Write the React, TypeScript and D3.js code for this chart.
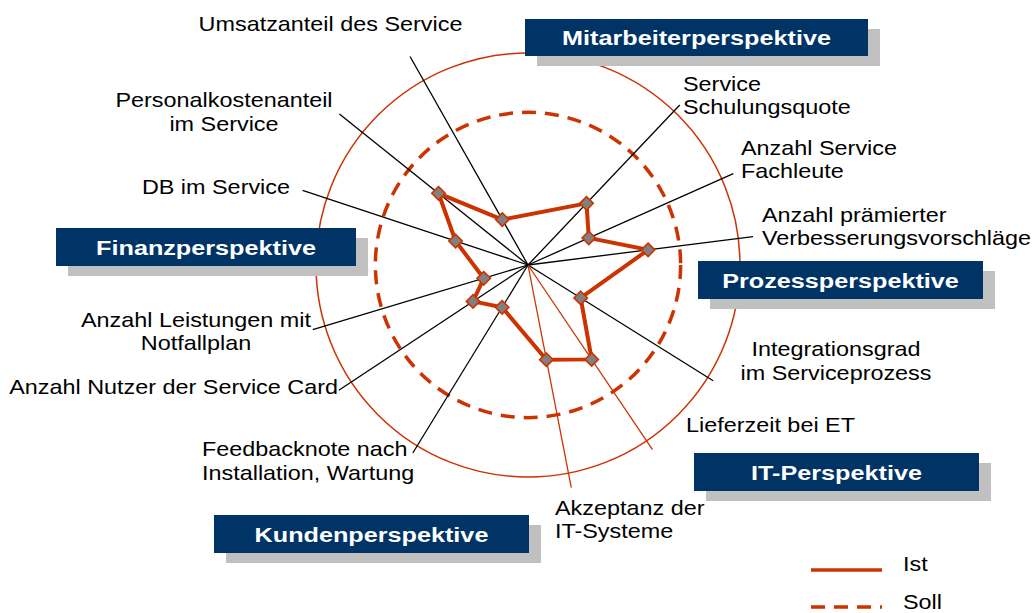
import React from "react";
import * as d3 from "d3";

// ---- data ----
const axisNames = [
  "Umsatzanteil des Service",
  "Service Schulungsquote",
  "Anzahl Service Fachleute",
  "Anzahl prämierter Verbesserungsvorschläge",
  "Integrationsgrad im Serviceprozess",
  "Lieferzeit bei ET",
  "Akzeptanz der IT-Systeme",
  "Feedbacknote nach Installation, Wartung",
  "Anzahl Nutzer der Service Card",
  "Anzahl Leistungen mit Notfallplan",
  "DB im Service",
  "Personalkostenanteil im Service",
];
const istValues = [24.6, 40.1, 31.4, 57.1, 29.3, 53.7, 45.5, 23.4, 31.1, 21.8, 36, 54.1];
const sollValue = 72;
const maxValue = 100;
const perspectives = [
  "Mitarbeiterperspektive",
  "Finanzperspektive",
  "Prozessperspektive",
  "IT-Perspektive",
  "Kundenperspektive",
];
const legendItems = ["Ist", "Soll"];

// ---- layout ----
const axisAngles = [330.5, 43.5, 66, 82.8, 122, 146, 169, 211.5, 236.5, 253.3, 288.3, 308.7];
const spokeLengths = [113, 104, 106, 107, 103, 105, 107, 104, 107, 106, 112, 114];
const spokeOrange = [false, false, false, false, false, true, true, false, false, false, false, false];
type LabelLayout = { lines: string[]; x: number; ys: number[]; anchor: "start" | "middle" | "end" };
const labelLayout: LabelLayout[] = [
  { lines: ["Umsatzanteil des Service"], x: 330.5, ys: [31], anchor: "middle" },
  { lines: ["Service", "Schulungsquote"], x: 683, ys: [91, 114], anchor: "start" },
  { lines: ["Anzahl Service", "Fachleute"], x: 741, ys: [155, 178], anchor: "start" },
  { lines: ["Anzahl prämierter", "Verbesserungsvorschläge"], x: 762, ys: [222, 245], anchor: "start" },
  { lines: ["Integrationsgrad", "im Serviceprozess"], x: 836, ys: [356, 380], anchor: "middle" },
  { lines: ["Lieferzeit bei ET"], x: 686, ys: [432], anchor: "start" },
  { lines: ["Akzeptanz der", "IT-Systeme"], x: 555, ys: [515, 538], anchor: "start" },
  { lines: ["Feedbacknote nach", "Installation, Wartung"], x: 202, ys: [456, 480], anchor: "start" },
  { lines: ["Anzahl Nutzer der Service Card"], x: 338, ys: [394], anchor: "end" },
  { lines: ["Anzahl Leistungen mit", "Notfallplan"], x: 196, ys: [327, 350], anchor: "middle" },
  { lines: ["DB im Service"], x: 290, ys: [194], anchor: "end" },
  { lines: ["Personalkostenanteil", "im Service"], x: 224, ys: [107, 131], anchor: "middle" },
];
const boxLayout = [
  { x: 525, y: 19, w: 343, h: 37, ty: 44.5 },
  { x: 56, y: 228, w: 300, h: 38, ty: 254.5 },
  { x: 698, y: 261, w: 285, h: 38, ty: 288 },
  { x: 694, y: 453, w: 285, h: 38, ty: 480 },
  { x: 214, y: 515, w: 315, h: 38, ty: 542 },
];

const W = 1034;
const H = 613;
const cx = 528;
const cy = 265;
const R = 212;
const ORANGE = "#CC3300";
const NAVY = "#003366";
const FONT = "'Liberation Sans', Arial, Helvetica, sans-serif";
const SX = 1.17;

function SText({ x, y, anchor, children, size = 20, bold = false, fill = "#000", sx = SX }: any) {
  return (
    <text
      transform={`translate(${x},${y}) scale(${sx},1)`}
      textAnchor={anchor}
      fontFamily={FONT}
      fontSize={size}
      fontWeight={bold ? "bold" : "normal"}
      fill={fill}
    >
      {children}
    </text>
  );
}

export default function App() {
  const r = d3.scaleLinear().domain([0, maxValue]).range([0, R]);
  const rad = (deg: number) => (deg * Math.PI) / 180;
  const pt = (deg: number, v: number): [number, number] => {
    const a = rad(deg);
    return [cx + Math.sin(a) * r(v), cy - Math.cos(a) * r(v)];
  };
  const line = d3
    .lineRadial<number>()
    .angle((_, i) => rad(axisAngles[i]))
    .radius((d) => r(d))
    .curve(d3.curveLinearClosed);
  const istPath = line(istValues) || "";
  const diamond = d3.symbol().type(d3.symbolDiamond2).size(115)() || "";

  return (
    <svg width={W} height={H} style={{ position: "absolute", left: 0, top: 0, background: "#fff" }}>
      <rect x={0} y={0} width={W} height={H} fill="#fff" />
      {/* circles */}
      <circle cx={cx} cy={cy} r={r(maxValue)} fill="none" stroke={ORANGE} strokeWidth={1.5} />
      <circle cx={cx} cy={cy} r={r(sollValue)} fill="none" stroke={ORANGE} strokeWidth={3.5} strokeDasharray="14 9" />
      {/* spokes */}
      {axisNames.map((n, i) => {
        const [x2, y2] = pt(axisAngles[i], spokeLengths[i]);
        return (
          <line key={n} x1={cx} y1={cy} x2={x2} y2={y2} stroke={spokeOrange[i] ? ORANGE : "#000"} strokeWidth={1.3} />
        );
      })}
      {/* Ist */}
      <path d={istPath} transform={`translate(${cx},${cy})`} fill="none" stroke={ORANGE} strokeWidth={4} strokeLinejoin="miter" />
      {istValues.map((v, i) => {
        const [x, y] = pt(axisAngles[i], v);
        return <path key={i} d={diamond} transform={`translate(${x},${y})`} fill="#808080" stroke={ORANGE} strokeWidth={1.6} />;
      })}
      {/* axis labels */}
      {labelLayout.map((l, i) => (
        <g key={i}>
          {l.lines.map((s, j) => (
            <SText key={j} x={l.x} y={l.ys[j]} anchor={l.anchor}>
              {s}
            </SText>
          ))}
        </g>
      ))}
      {/* perspective boxes */}
      {perspectives.map((p, i) => {
        const b = boxLayout[i];
        return (
          <g key={p}>
            <rect x={b.x + 12} y={b.y + 10} width={b.w} height={b.h} fill="#C0C0C0" />
            <rect x={b.x} y={b.y} width={b.w} height={b.h} fill={NAVY} />
            <SText x={b.x + b.w / 2} y={b.ty} anchor="middle" size={21} bold fill="#fff" sx={1.2}>
              {p}
            </SText>
          </g>
        );
      })}
      {/* legend */}
      <line x1={811} y1={570} x2={882} y2={570} stroke={ORANGE} strokeWidth={3.5} />
      <SText x={903} y={571} anchor="start">{legendItems[0]}</SText>
      <line x1={811} y1={607} x2={882} y2={607} stroke={ORANGE} strokeWidth={3.5} strokeDasharray="14 9" />
      <SText x={903} y={609} anchor="start">{legendItems[1]}</SText>
    </svg>
  );
}
